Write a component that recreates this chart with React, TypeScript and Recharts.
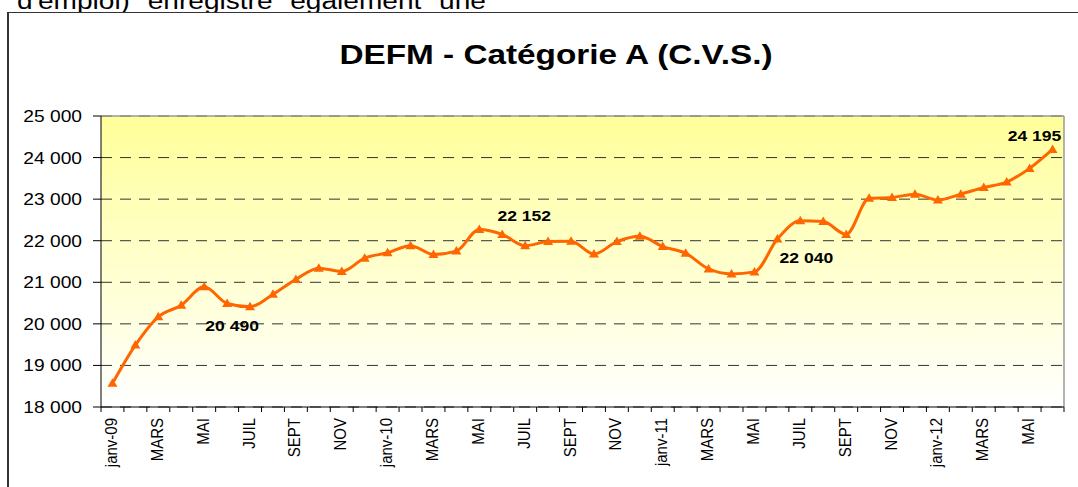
import {
  LineChart,
  Line,
  XAxis,
  YAxis,
  CartesianGrid,
  ReferenceLine,
  LabelList,
} from "recharts";

// one entry per month, janv-09 .. juin-12
const months = [
  "janv-09", "FÉV", "MARS", "AVRIL", "MAI", "JUIN", "JUIL", "AOÛT", "SEPT", "OCT", "NOV", "DÉC",
  "janv-10", "FÉV", "MARS", "AVRIL", "MAI", "JUIN", "JUIL", "AOÛT", "SEPT", "OCT", "NOV", "DÉC",
  "janv-11", "FÉV", "MARS", "AVRIL", "MAI", "JUIN", "JUIL", "AOÛT", "SEPT", "OCT", "NOV", "DÉC",
  "janv-12", "FÉV", "MARS", "AVRIL", "MAI", "JUIN",
];

const defm = [
  18570, 19490, 20170, 20450, 20890, 20490, 20410, 20710, 21070, 21340, 21260, 21580,
  21710, 21880, 21670, 21750, 22270, 22152, 21880, 21980, 21990, 21680, 21980, 22110,
  21860, 21700, 21320, 21200, 21250, 22040, 22480, 22460, 22150, 23020, 23040, 23120,
  22980, 23120, 23280, 23410, 23740, 24195,
];

const yTicks = [18000, 19000, 20000, 21000, 22000, 23000, 24000, 25000];

// months whose value is written on the chart
const labelled = [5, 17, 29, 41];

const data = months.map((m, i) => ({ m, pos: i + 0.5, v: defm[i] }));
// integer positions = month boundaries (tick marks), half positions = month centres (labels)
const xTicks = Array.from({ length: months.length * 2 + 1 }, (_, k) => k / 2);

const ORANGE = "#FF6600";
const FONT = "'Liberation Sans', Arial, sans-serif";

const fmt = (v: number) => String(v).replace(/\B(?=(\d{3})+(?!\d))/g, " ");

// label offsets from the point (dx, dy to baseline)
const labelOffset: Record<number, [number, number]> = {
  5: [5, 28],
  17: [22, -13],
  29: [29, 24],
  41: [-18, -8],
};

function XTick(props: any) {
  const { x, y, payload } = props;
  const val = payload.value as number;
  if (Number.isInteger(val)) {
    return <line x1={x} x2={x} y1={y} y2={y + 5} stroke="#000" strokeWidth={1} />;
  }
  const idx = val - 0.5;
  if (idx % 2 !== 0) return null;
  return (
    <text
      transform={`translate(${x + 4.5},${y + 11}) scale(1.08,1) rotate(-90)`}
      textAnchor="end"
      fontSize={15}
      fontFamily={FONT}
      fill="#000"
    >
      {months[idx]}
    </text>
  );
}

function YTick(props: any) {
  const { x, y, payload } = props;
  return (
    <text
      transform={`translate(${x},${y + 6}) scale(1.2,1)`}
      textAnchor="end"
      fontSize={16}
      fontFamily={FONT}
      fill="#000"
    >
      {fmt(payload.value)}
    </text>
  );
}

function Triangle(props: any) {
  const { cx, cy } = props;
  if (cx == null || cy == null) return null;
  return (
    <polygon
      points={`${cx},${cy - 5} ${cx + 5},${cy + 3.5} ${cx - 5},${cy + 3.5}`}
      fill={ORANGE}
    />
  );
}

function ValueLabel(props: any) {
  const { x, y, value, index } = props;
  if (!labelled.includes(index)) return null;
  const [dx, dy] = labelOffset[index] ?? [0, -10];
  return (
    <text
      transform={`translate(${x + dx},${y + dy}) scale(1.17,1)`}
      textAnchor="middle"
      fontSize={15}
      fontWeight="bold"
      fontFamily={FONT}
      fill="#000"
    >
      {fmt(value)}
    </text>
  );
}

export default function App() {
  return (
    <div
      style={{
        position: "fixed",
        left: 0,
        top: 0,
        width: 1078,
        height: 487,
        overflow: "hidden",
        background: "#fff",
        fontFamily: FONT,
      }}
    >
      <div
        style={{
          position: "absolute",
          left: 17,
          top: -10.5,
          fontSize: 23,
          lineHeight: "23px",
          whiteSpace: "pre",
          transform: "scaleX(1.22)",
          transformOrigin: "0 0",
          color: "#000",
        }}
      >
        {"d'emploi) \"enregistré\" également \"une"}
      </div>
      <div
        style={{
          position: "absolute",
          left: 7,
          top: 12,
          width: 1100,
          height: 520,
          borderLeft: "2px solid #333",
          borderTop: "1.5px solid #333",
          background: "#fff",
        }}
      />
      <div
        style={{
          position: "absolute",
          left: 0,
          top: 41.3,
          width: 1112,
          textAlign: "center",
          fontSize: 28,
          lineHeight: "28px",
          fontWeight: "bold",
          transform: "scaleX(1.19)",
          transformOrigin: "556px 0",
          color: "#000",
          whiteSpace: "nowrap",
        }}
      >
        DEFM - Catégorie A (C.V.S.)
      </div>
      <div style={{ position: "absolute", left: 0, top: 0 }}>
        <LineChart
          width={1078}
          height={487}
          data={data}
          margin={{ top: 116, right: 14, left: 11, bottom: 20 }}
        >
          <defs>
            <linearGradient id="plotBg" x1="0" y1="0" x2="0" y2="1">
              <stop offset="0%" stopColor="#FFFF99" />
              <stop offset="100%" stopColor="#FFFFFF" />
            </linearGradient>
          </defs>
          <CartesianGrid
            vertical={false}
            stroke="#333"
            strokeDasharray="11 8"
            fill="url(#plotBg)"
            fillOpacity={1}
          />
          <ReferenceLine y={25000} stroke="#999" strokeWidth={1.5} />
          <ReferenceLine x={months.length} stroke="#999" strokeWidth={1.5} />
          <XAxis
            dataKey="pos"
            type="number"
            domain={[0, months.length]}
            ticks={xTicks}
            interval={0}
            height={60}
            tickSize={0}
            tickMargin={0}
            tickLine={false}
            axisLine={{ stroke: "#000" }}
            tick={(p: any) => <XTick {...p} />}
          />
          <YAxis
            domain={[18000, 25000]}
            ticks={yTicks}
            interval={0}
            width={90}
            tickSize={8}
            tickMargin={11}
            axisLine={{ stroke: "#000" }}
            tickLine={{ stroke: "#000" }}
            tick={<YTick />}
          />
          <Line
            type="monotone"
            dataKey="v"
            stroke={ORANGE}
            strokeWidth={3}
            dot={<Triangle />}
            activeDot={false}
            isAnimationActive={false}
          >
            <LabelList dataKey="v" content={<ValueLabel />} />
          </Line>
        </LineChart>
      </div>
    </div>
  );
}
